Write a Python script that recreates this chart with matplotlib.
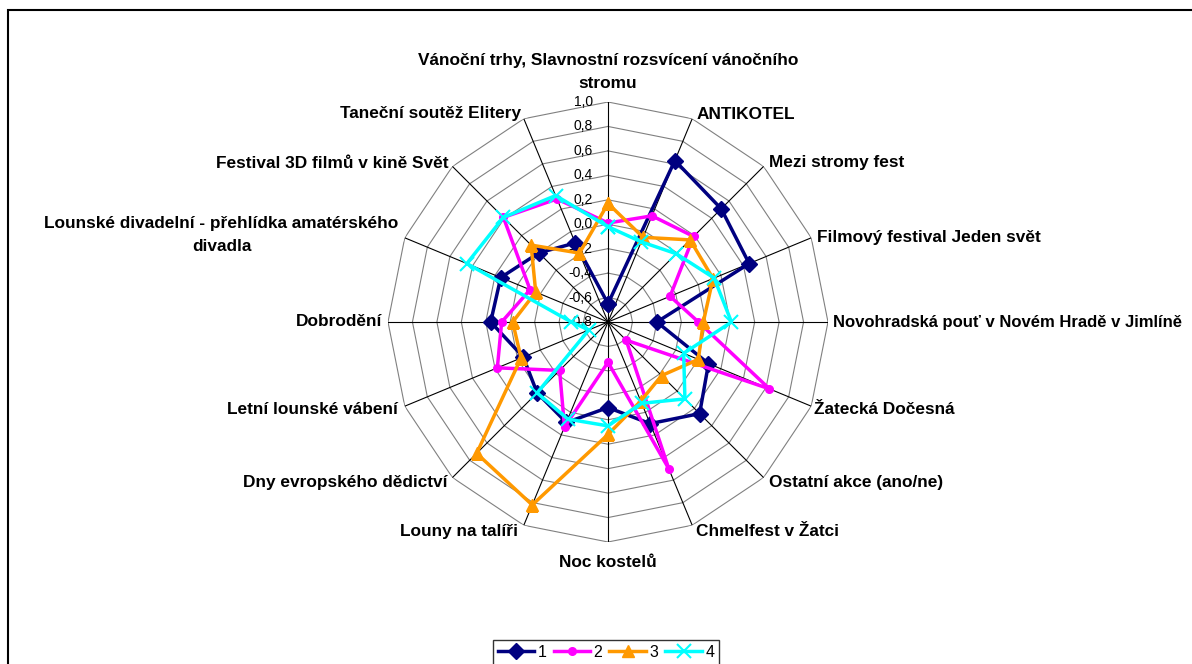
import numpy as np
import matplotlib.pyplot as plt
from matplotlib.patches import Rectangle

plt.rcParams['font.family'] = ['Liberation Sans', 'DejaVu Sans']

# categories (clockwise from the top)
categories = [
    'Vánoční trhy, Slavnostní rozsvícení vánočního\nstromu',
    'ANTIKOTEL',
    'Mezi stromy fest',
    'Filmový festival Jeden svět',
    'Novohradská pouť v Novém Hradě v Jimlíně',
    'Žatecká Dočesná',
    'Ostatní akce (ano/ne)',
    'Chmelfest v Žatci',
    'Noc kostelů',
    'Louny na talíři',
    'Dny evropského dědictví',
    'Letní lounské vábení',
    'Dobrodění',
    'Lounské divadelní - přehlídka amatérského\ndivadla',
    'Festival 3D filmů v kině Svět',
    'Taneční soutěž Elitery',
]

s1 = [-0.65, 0.63, 0.51, 0.45, -0.40, 0.09, 0.26, 0.10,
      -0.10, 0.09, 0.02, -0.05, 0.16, 0.15, 0.00, -0.10]
s2 = [0.01, 0.14, 0.19, -0.25, -0.06, 0.63, -0.59, 0.50,
      -0.47, 0.13, -0.24, 0.18, 0.07, -0.11, 0.41, 0.29]
s3 = [0.17, -0.05, 0.15, 0.13, -0.02, 0.00, -0.18, -0.10,
      0.12, 0.82, 0.72, -0.03, -0.02, -0.16, 0.09, -0.19]
s4 = [-0.02, -0.09, -0.01, 0.14, 0.21, -0.13, 0.09, -0.08,
      0.05, 0.06, 0.02, -0.63, -0.50, 0.45, 0.41, 0.32]
series_names = ['1', '2', '3', '4']

r_ticks = [1.0, 0.8, 0.6, 0.4, 0.2, 0.0, -0.2, -0.4, -0.6, -0.8]

n = len(categories)
theta = np.linspace(0, 2 * np.pi, n, endpoint=False)
theta_c = np.append(theta, theta[0])

fig = plt.figure(figsize=(11.92, 6.64), dpi=100)
fig.patches.append(Rectangle((8 / 1192, -0.1), 1.2, 1 - 10 / 664 + 0.1,
                             transform=fig.transFigure, fill=False,
                             edgecolor='black', lw=1.5))

ax = fig.add_axes([388 / 1192, 1 - 542 / 664, 440 / 1192, 440 / 664],
                  projection='polar')
ax.set_theta_offset(np.pi / 2)
ax.set_theta_direction(-1)
ax.set_ylim(-0.8, 1.0)
ax.grid(False)
ax.set_xticks([])
ax.set_yticks([])
ax.spines['polar'].set_visible(False)
ax.patch.set_visible(False)

# polygon rings and spokes
for r in r_ticks[:-1]:
    ax.plot(theta_c, [r] * (n + 1), color='#808080', lw=0.8, zorder=1)
for t in theta:
    ax.plot([t, t], [-0.8, 1.0], color='black', lw=0.8, zorder=1)

# value axis labels
for r in r_ticks:
    ax.annotate(f'{r:.1f}'.replace('.', ','), (0, r), xytext=(-11, 0),
                textcoords='offset points', ha='right', va='center',
                fontsize=10, zorder=2)

# category labels: (dx, dy) in pixels
offsets = [(0, 11), (4, 4), (5, 4), (6, 0), (5, 0), (3, -3), (5, -5), (4, -6),
           (0, -13), (-6, -6), (-5, -5), (-7, -3), (-6, 0), (-6, 3), (-4, 3), (-3, 5)]
for i, (lab, (dx, dy)) in enumerate(zip(categories, offsets)):
    if i in (0, 8):
        ha = 'center'
    elif i < 8:
        ha = 'left'
    else:
        ha = 'right'
    va = 'bottom' if i == 0 else ('top' if i == 8 else 'center')
    fs = 12.0 if i == 4 else 12.4
    ax.annotate(lab, (theta[i], 1.0), xytext=(dx * 0.72, dy * 0.72),
                textcoords='offset points', ha=ha, va=va, fontsize=fs,
                fontweight='bold', multialignment='center', linespacing=1.65,
                annotation_clip=False)

styles = [
    dict(color='#000080', marker='D', ms=8),
    dict(color='#FF00FF', marker='o', ms=5.5),
    dict(color='#FF9900', marker='^', ms=8),
    dict(color='#00FFFF', marker='x', ms=10, mew=1.5),
]
for vals, name, st in zip([s1, s2, s3, s4], series_names, styles):
    ax.plot(theta_c, vals + vals[:1], lw=2.5, label=name, zorder=3, **st)

leg = fig.legend(loc='upper center', bbox_to_anchor=(606 / 1192, 1 - 640 / 664),
                 ncol=4, frameon=True, fancybox=False, fontsize=11.5,
                 handlelength=2.3, handletextpad=0.2, columnspacing=0.45,
                 borderpad=0.3, borderaxespad=0)
leg.get_frame().set_edgecolor('black')
leg.get_frame().set_linewidth(1.0)

fig.savefig('out.png', dpi=100)
